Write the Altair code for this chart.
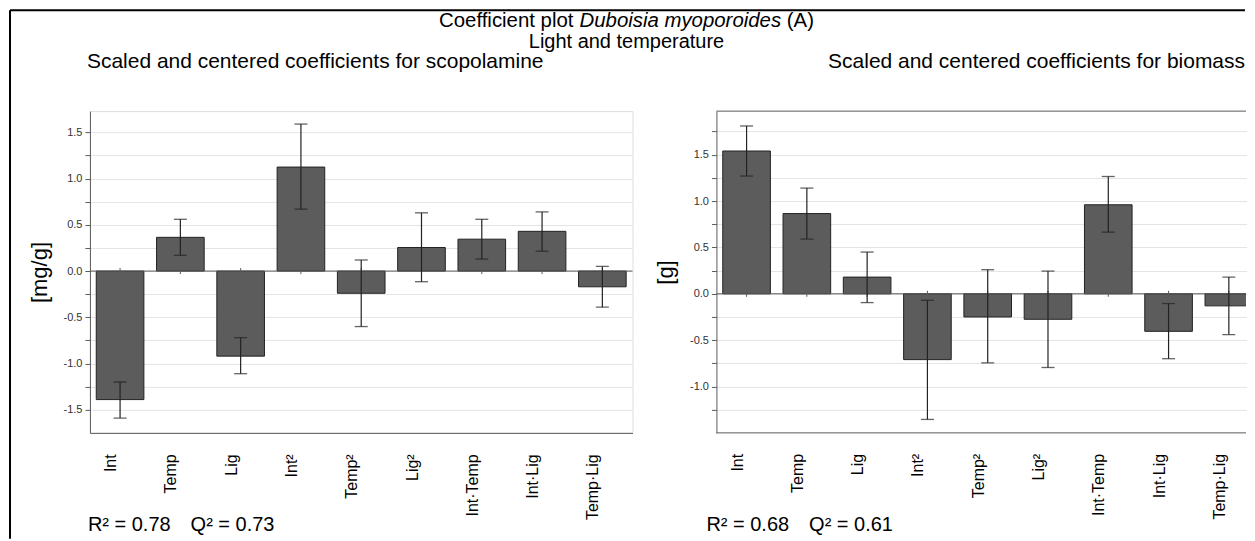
import altair as alt
import pandas as pd

# ---------------- data ----------------
terms = ["Int", "Temp", "Lig", "Int²", "Temp²", "Lig²", "Int·Temp", "Int·Lig", "Temp·Lig"]

scop_coef = [-1.39, 0.365, -0.92, 1.125, -0.24, 0.255, 0.345, 0.43, -0.17]
scop_low = [-1.59, 0.17, -1.11, 0.67, -0.60, -0.115, 0.13, 0.215, -0.39]
scop_high = [-1.20, 0.56, -0.72, 1.59, 0.12, 0.63, 0.56, 0.64, 0.05]

bio_coef = [1.54, 0.865, 0.18, -0.71, -0.25, -0.275, 0.96, -0.405, -0.13]
bio_low = [1.27, 0.59, -0.095, -1.355, -0.745, -0.795, 0.665, -0.70, -0.44]
bio_high = [1.81, 1.14, 0.45, -0.07, 0.26, 0.245, 1.265, -0.105, 0.18]

scop_ticks = [-1.5, -1.25, -1.0, -0.75, -0.5, -0.25, 0.0, 0.25, 0.5, 0.75, 1.0, 1.25, 1.5]
bio_ticks = [-1.25, -1.0, -0.75, -0.5, -0.25, 0.0, 0.25, 0.5, 0.75, 1.0, 1.25, 1.5, 1.75]

title_parts = ["Coefficient plot", "Duboisia myoporoides", "(A)"]
title_line2 = ["Light and temperature"]
subtitles = ["Scaled and centered coefficients for scopolamine",
             "Scaled and centered coefficients for biomass"]
stats = ["R² = 0.78\u2003Q² = 0.73", "R² = 0.68\u2003Q² = 0.61"]
y_titles = ["[mg/g]", "[g]"]

# ---------------- styling ----------------
FONT = "Liberation Sans"
W_L = 543
W_R = 530
H = 322
FRAME = "#5a5a5a"
BAR = "#5c5c5c"
INK = "#222222"

LABEL_EXPR = ("abs(datum.value*2 - round(datum.value*2)) < 0.001 ? "
              "replace(format(datum.value, '.1f'), '\u2212', '-') : ''")


def txt(s, x, y, size, align="left", style="normal"):
    return alt.Chart(pd.DataFrame({"label": [s]})).mark_text(
        align=align, baseline="alphabetic", fontSize=size, font=FONT,
        fontStyle=style, color="black"
    ).encode(x=alt.value(x), y=alt.value(y), text="label:N")


def rule(x, x2, y, y2, color, width):
    return alt.Chart(pd.DataFrame({"k": [0]})).mark_rule(
        color=color, strokeWidth=width
    ).encode(x=alt.value(x), x2=alt.value(x2), y=alt.value(y), y2=alt.value(y2))


def panel(coef, low, high, ydom, yvals, ytitle, right):
    df = pd.DataFrame({"term": terms, "coef": coef, "low": low, "high": high})
    base = alt.Chart(df)
    if right:
        # axis labels drawn as a text layer, so that the cropped right edge
        # does not enlarge the page
        xaxis = None
        xscale = alt.Scale(domain=terms, paddingInner=0.21, paddingOuter=0.105,
                           range=[0, 543])
    else:
        xaxis = alt.Axis(title=None, labelAngle=-90, labelFontSize=16, labelFont=FONT,
                         labelColor="black", labelPadding=21, labelOffset=-9,
                         ticks=False, tickSize=0, grid=False,
                         domainColor=FRAME, labelOverlap=False)
        xscale = alt.Scale(domain=terms, paddingInner=0.21, paddingOuter=0.105)
    x = alt.X("term:N", sort=terms, axis=xaxis, scale=xscale)
    yaxis = alt.Axis(title=ytitle, titleFontSize=22, titleFont=FONT,
                     titleFontWeight="normal", titleColor="black", titlePadding=12,
                     values=yvals, tickCount=40, labelExpr=LABEL_EXPR, labelFontSize=11,
                     labelFont=FONT, labelColor="#333333", labelPadding=3,
                     labelOverlap=False,
                     tickSize=5, tickColor=FRAME, domainColor=FRAME,
                     grid=True, gridColor="#e4e4e4", gridWidth=1)
    yscale = alt.Scale(domain=ydom, nice=False, zero=False)

    bars = base.mark_bar(fill=BAR, stroke=INK, strokeWidth=1, clip=right).encode(
        x=x, y=alt.Y("coef:Q", scale=yscale, axis=yaxis), y2=alt.datum(0))
    zero = alt.Chart(pd.DataFrame({"z": [0.0]})).mark_rule(
        color=FRAME, strokeWidth=1).encode(
        y=alt.Y("z:Q", scale=yscale, axis=yaxis), x=alt.value(0),
        x2=alt.value(W_R if right else W_L))
    zticks = base.mark_rule(color=FRAME, strokeWidth=1, yOffset=-3, y2Offset=3).encode(
        x=x, y=alt.datum(0), y2=alt.datum(0))
    err = base.mark_rule(color=INK, strokeWidth=1.2).encode(
        x=x, y=alt.Y("low:Q", scale=yscale, axis=yaxis), y2="high:Q")
    cap_lo = base.mark_tick(color=INK, size=13, thickness=1.3, orient="horizontal").encode(
        x=x, y=alt.Y("low:Q", scale=yscale, axis=yaxis))
    cap_hi = base.mark_tick(color=INK, size=13, thickness=1.3, orient="horizontal").encode(
        x=x, y=alt.Y("high:Q", scale=yscale, axis=yaxis))
    layers = [bars, zero, zticks, err, cap_lo, cap_hi]
    if right:
        labels = base.mark_text(angle=270, align="right", baseline="middle",
                                fontSize=16, font=FONT, color="black", dy=-9).encode(
            x=x, y=alt.value(H + 21), text="term:N")
        layers.append(labels)
    return layers


# ---------------- left panel ----------------
TF = 20.4
em_a, em_b, em_space = 6.614, 9.892, 0.278
w_c = 1.333
total = (em_a + em_space + em_b + em_space + w_c) * TF
cx = 627 - 90
start = cx - total / 2

left_layers = panel(scop_coef, scop_low, scop_high, [-1.75, 1.73], scop_ticks,
                    y_titles[0], False)
left_layers += [
    rule(-80, -80, -101, 428, "black", 2),
    rule(-80, 1156, -101, -101, "black", 2),
    txt(title_parts[0], start, -84, TF),
    txt(title_parts[1], start + (em_a + em_space) * TF, -84, TF, style="italic"),
    txt(title_parts[2], start + (em_a + em_b + 2 * em_space) * TF, -84, TF),
    txt(title_line2[0], cx, -63, 20, align="center"),
    txt(subtitles[0], -3, -43, 21),
    txt(stats[0], -2, 420, 20),
]
left = alt.layer(*left_layers).properties(width=W_L, height=H)

# ---------------- right panel ----------------
right_layers = panel(bio_coef, bio_low, bio_high, [-1.5, 1.97], bio_ticks,
                     y_titles[1], True)
right_layers += [
    rule(0, W_R, 0, 0, FRAME, 1),
    rule(0, W_R, H, H, FRAME, 1),
    txt(subtitles[1], 529, -43, 21, align="right"),
    txt(stats[1], -10, 420, 20),
]
right = alt.layer(*right_layers).properties(
    width=W_R, height=H, view=alt.ViewBackground(strokeOpacity=0))

chart = alt.hconcat(left, right, spacing=84, bounds="flush").properties(
    padding=0
).configure_view(stroke=FRAME, strokeWidth=1).configure(background="white")

chart.save("out.html", embed_options={"renderer": "svg", "actions": False})
